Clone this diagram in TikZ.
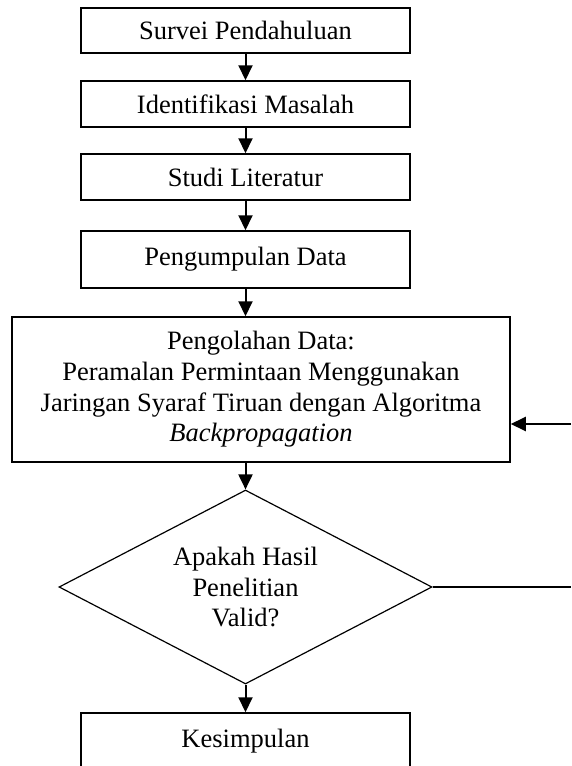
\documentclass[tikz,border=0pt]{standalone}
\usepackage{fontspec}
\setmainfont{Liberation Serif}
\usetikzlibrary{shapes.geometric, arrows.meta}

\begin{document}
\begin{tikzpicture}[x=1pt, y=-1pt,
  box/.style={rectangle, draw, line width=1.5pt, minimum width=329pt, inner sep=0pt, align=center, font=\fontsize{26.5}{30.7}\selectfont},
  decision/.style={diamond, draw, line width=1.2pt, minimum width=373pt, minimum height=194pt, aspect=1.92, inner sep=0pt, align=center, font=\fontsize{26.5}{30.7}\selectfont},
  arrow/.style={-{Triangle[length=15pt, width=14pt]}, line width=2pt}]
  \useasboundingbox (0, 0) rectangle (571, 766);
  \clip (0, 0) rectangle (571, 766);
  % Nodes
  \node (survei) [box, minimum height=45pt] at (245.5, 30.5) {Survei Pendahuluan};
  \node (identifikasi) [box, minimum height=46pt] at (245.5, 104) {Identifikasi Masalah};
  \node (studi) [box, minimum height=46pt] at (245.5, 177) {Studi Literatur};
  \node (pengumpulan) [box, minimum height=57pt] at (245.5, 259.5) {Pengumpulan Data};
  \node (pengolahan) [box, minimum height=145pt, minimum width=498pt] at (261, 389.5) {Pengolahan Data:\\Peramalan Permintaan Menggunakan\\Jaringan Syaraf Tiruan dengan Algoritma\\\textit{Backpropagation}};
  \node (valid) [decision] at (245.5, 587) {Apakah Hasil\\Penelitian\\Valid?};
  \node (kesimpulan) [box, minimum height=57pt] at (245.5, 741.5) {Kesimpulan};
  \coordinate (balik) at (571, 424);
  \coordinate (keluar) at (571, 587);
  % Arrow
  \draw[arrow] (survei) -- (identifikasi);
  \draw[arrow] (identifikasi) -- (studi);
  \draw[arrow] (studi) -- (pengumpulan);
  \draw[arrow] (pengumpulan.south -| valid.north) -- (pengumpulan.south |- pengolahan.north);
  \draw[arrow] (pengolahan.south -| valid.north) -- (valid.north);
  \draw[arrow] (valid) -- (kesimpulan);
  \draw[line width=1.2pt] (valid.east) -- (keluar);
  \draw[arrow] (balik) -- (balik -| pengolahan.east);
\end{tikzpicture}
\end{document}
